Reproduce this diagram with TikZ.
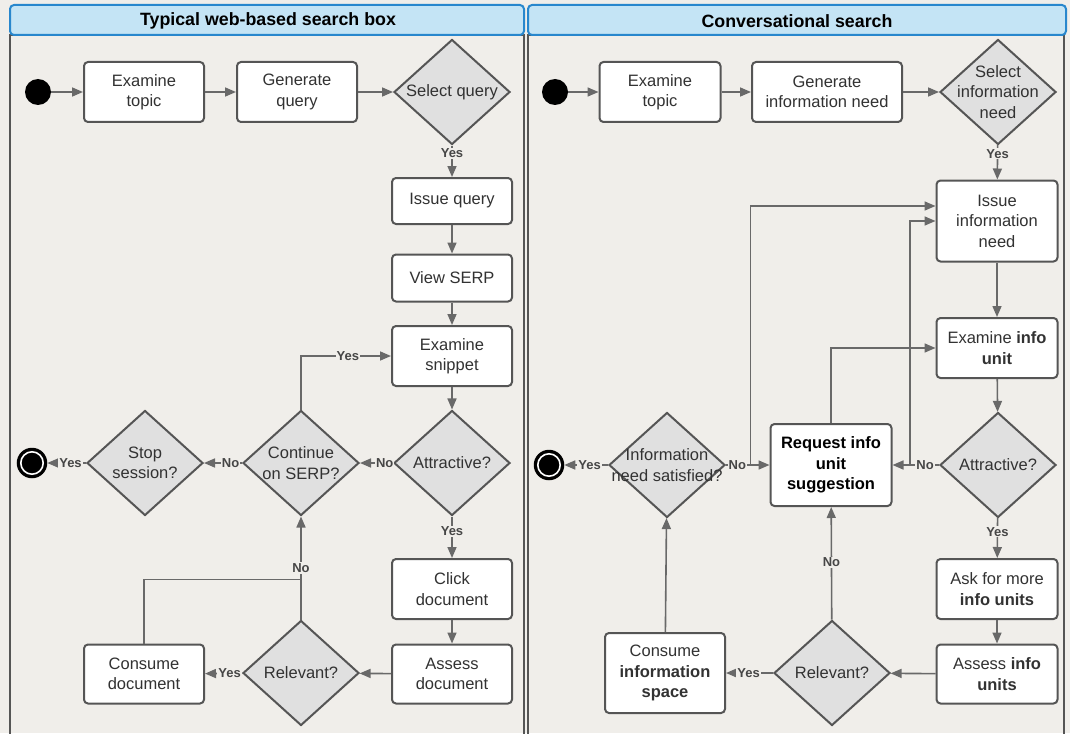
\documentclass[tikz,border=0pt]{standalone}
\usepackage{fontspec}
\setmainfont{Liberation Sans}
\usetikzlibrary{shapes.geometric,arrows.meta}

\definecolor{bgpaper}{RGB}{240,238,234}
\definecolor{headfill}{RGB}{196,228,245}
\definecolor{headline}{RGB}{40,135,205}
\definecolor{boxline}{RGB}{85,85,85}
\definecolor{arrowgray}{RGB}{105,105,105}
\definecolor{diafill}{RGB}{224,224,224}
\definecolor{textgray}{RGB}{50,50,50}
\definecolor{labgray}{RGB}{70,70,70}

\newcommand{\nodefont}{\fontsize{16.5}{20.5}\selectfont}
\newcommand{\labfont}{\fontsize{13}{14}\selectfont\bfseries}
\newcommand{\headfont}{\fontsize{17.8}{20}\selectfont\bfseries}

\tikzset{
  header/.style={draw=headline, fill=headfill, line width=2pt, rounded corners=4pt},
  lane/.style={draw=boxline, line width=2.6pt},
  headtext/.style={font=\headfont, text=black},
  box/.style={draw=boxline, line width=2pt, rounded corners=4pt, fill=white,
    minimum width=120pt, minimum height=60pt, align=center, inner sep=2pt,
    font=\nodefont, text=textgray},
  dia/.style={diamond, draw=boxline, line width=2pt, fill=diafill,
    minimum width=116pt, minimum height=105pt, inner sep=0pt},
  diatext/.style={align=center, font=\nodefont, text=textgray},
  startc/.style={circle, fill=black, minimum size=26pt, inner sep=0pt},
  endc/.style={circle, draw=black, fill=black, line width=1.5pt, minimum size=29pt,
    inner sep=0pt, path picture={\draw[white, line width=1.6pt]
      (path picture bounding box.center) circle (11.2pt);}},
  arr/.style={draw=arrowgray, line width=1.6pt, -{Triangle[length=11pt,width=9pt]}},
  plain/.style={draw=arrowgray, line width=1.6pt},
  lab/.style={font=\labfont, text=labgray, fill=bgpaper, inner sep=1pt}
}

\begin{document}
\begin{tikzpicture}[x=1pt, y=-1pt]
  \useasboundingbox (0,0) rectangle (1070,733);
  \fill[bgpaper] (0,0) rectangle (1070,733);

  % swimlanes
  \draw[lane] (10,35) rectangle (524,745);
  \draw[lane] (528,35) rectangle (1064,745);
  \draw[header] (10,5) rectangle (524,35);
  \draw[header] (528,5) rectangle (1066,35);
  \node[headtext] (hleft) at (268,21) {Typical web-based search box};
  \node[headtext] (hright) at (797,21) {Conversational search};

  % ---------- web-based search box ----------
  \node[startc] (ls) at (38,92) {};
  \node[box] (lexam) at (144,92) {Examine\\topic};
  \node[box] (lgen) at (297,92) {Generate\\query};
  \node[dia, label={[diatext]center:Select query}] (lsel) at (452,92) {};
  \node[box, minimum height=46pt] (liss) at (452,201) {Issue query};
  \node[box, minimum height=47pt] (lview) at (452,278) {View SERP};
  \node[box] (lsnip) at (452,356) {Examine\\snippet};
  \node[dia, label={[diatext]center:Attractive?}] (latt) at (452,463) {};
  \node[dia, label={[diatext]center:Continue\\on SERP?}] (lcont) at (301,463) {};
  \node[dia, label={[diatext]center:Stop\\session?}] (lstop) at (145,463) {};
  \node[endc] (lend) at (32,463) {};
  \node[box] (lclick) at (452,589) {Click\\document};
  \node[box, minimum height=59pt] (lassess) at (452,674) {Assess\\document};
  \node[dia, label={[diatext]center:Relevant?}] (lrel) at (301,673) {};
  \node[box, minimum height=59pt] (lcons) at (144,674) {Consume\\document};
  \path (lrel.north) ++(0,-40) coordinate (ljoin);

  \draw[arr] (ls) -- (lexam);
  \draw[arr] (lexam) -- (lgen);
  \draw[arr] (lgen) -- (lsel);
  \draw[arr] (lsel) -- node[lab, pos=0.25] {Yes} (liss);
  \draw[arr] (liss) -- (lview);
  \draw[arr] (lview) -- (lsnip);
  \draw[arr] (lsnip) -- (latt);
  \draw[arr] (latt) -- node[lab, pos=0.25] {No} (lcont);
  \draw[arr] (lcont) -- node[lab, pos=0.3] {No} (lstop);
  \draw[arr] (lstop) -- node[lab, pos=0.4] {Yes} (lend);
  \draw[arr] (lcont.north) |- node[lab, pos=0.76] {Yes} (lsnip.west);
  \draw[arr] (latt) -- node[lab, pos=0.36] {Yes} (lclick);
  \draw[arr] (lclick) -- (lassess);
  \draw[arr] (lassess) -- (lrel);
  \draw[arr] (lrel) -- node[lab, pos=0.34] {Yes} (lcons);
  \draw[plain] (lcons.north) |- (ljoin);
  \draw[arr] (lrel) -- node[lab, pos=0.5] {No} (lcont);

  % ---------- conversational search ----------
  \node[startc] (rs) at (555,92) {};
  \node[box, minimum width=121pt] (rexam) at (660,92) {Examine\\topic};
  \node[box, minimum width=150pt] (rgen) at (827,92) {Generate\\information need};
  \node[dia, label={[diatext]center:Select\\information\\need}] (rsel) at (998,92) {};
  \node[box, minimum width=121pt, minimum height=81pt] (riss) at (997,221) {Issue\\information\\need};
  \node[box, minimum width=121pt] (rexu) at (997,348) {Examine \textbf{info}\\\textbf{unit}};
  \node[dia, label={[diatext]center:Attractive?}] (ratt) at (998,465) {};
  \node[box, minimum width=121pt, minimum height=82pt, text=black] (rreq) at (831,465)
    {\textbf{Request info}\\\textbf{unit}\\\textbf{suggestion}};
  \node[dia, label={[diatext]center:Information\\need satisfied?}] (rsat) at (667,465) {};
  \node[endc] (rend) at (549,465) {};
  \node[box, minimum width=121pt] (rask) at (997,589) {Ask for more\\\textbf{info units}};
  \node[box, minimum width=121pt, minimum height=59pt] (rassess) at (997,674) {Assess \textbf{info}\\\textbf{units}};
  \node[dia, label={[diatext]center:Relevant?}] (rrel) at (832,673) {};
  \node[box, minimum height=80pt] (rcons) at (665,673) {Consume\\\textbf{information}\\\textbf{space}};
  \path (ratt.west) ++(-29,0) coordinate (rb1);
  \path (rreq.west) ++(-19,0) coordinate (rb2);

  \draw[arr] (rs) -- (rexam);
  \draw[arr] (rexam) -- (rgen);
  \draw[arr] (rgen) -- (rsel);
  \draw[arr] (rsel) -- node[lab, pos=0.25] {Yes} (riss);
  \draw[arr] (riss) -- (rexu);
  \draw[arr] (rexu) -- (ratt);
  \draw[arr] (ratt) -- node[lab, pos=0.3] {No} (rreq);
  \draw[arr] (rb1) |- (riss.west);
  \draw[arr] (rreq.north) |- (rexu.west);
  \draw[arr] (ratt) -- node[lab, pos=0.34] {Yes} (rask);
  \draw[arr] (rask) -- (rassess);
  \draw[arr] (rassess) -- (rrel);
  \draw[arr] (rrel) -- node[lab, pos=0.52] {Yes} (rcons);
  \draw[arr] (rrel) -- node[lab, pos=0.51] {No} (rreq);
  \draw[arr] (rcons) -- (rsat);
  \draw[arr] (rsat) -- node[lab, pos=0.42] {Yes} (rend);
  \draw[arr] (rsat) -- node[lab, pos=0.26] {No} (rreq);
  \draw[arr] (rb2) |- ([yshift=15pt]riss.west);
\end{tikzpicture}
\end{document}
